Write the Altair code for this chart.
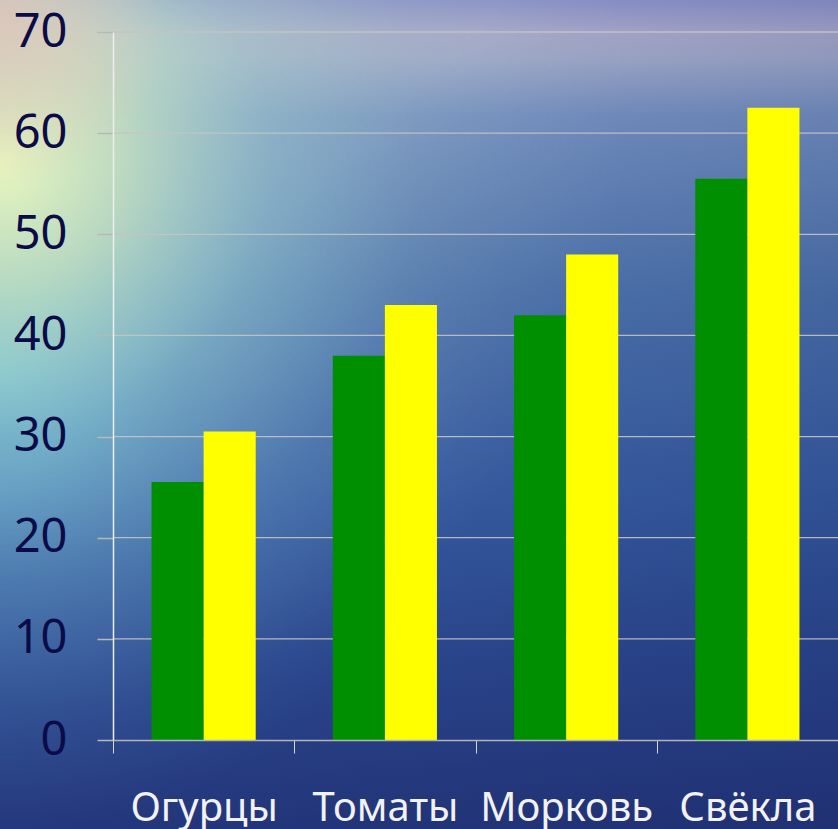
import altair as alt
import pandas as pd

# Vegetable yields for two periods
categories = ["Огурцы", "Томаты", "Морковь", "Свёкла"]
series_names = ["Первый", "Второй"]
first_values = [25.5, 38, 42, 55.5]
second_values = [30.5, 43, 48, 62.5]
bar_colors = ["#008f00", "#ffff00"]
y_ticks = [0, 10, 20, 30, 40, 50, 60, 70]

rows = []
for cat, a, b in zip(categories, first_values, second_values):
    rows.append({"cat": cat, "series": series_names[0], "value": a})
    rows.append({"cat": cat, "series": series_names[1], "value": b})
df = pd.DataFrame(rows)
grid_df = pd.DataFrame({"value": y_ticks[1:]})

W, H = 725, 708
PAD_L, PAD_T, PAD_B = 113, 32, 89


def stops(pairs):
    return [alt.GradientStop(color=c, offset=o) for o, c in pairs]


def backdrop(fill):
    return alt.Chart(alt.Data(values=[{}])).mark_rect(fill=fill, strokeWidth=0).encode(
        x=alt.value(-PAD_L), x2=alt.value(W),
        y=alt.value(-PAD_T), y2=alt.value(H + PAD_B),
    )


# sea-like backdrop: sky haze at the top, deepening blue towards the bottom
sea = backdrop(alt.LinearGradient(
    gradient="linear", x1=0, y1=0, x2=0, y2=1,
    stops=stops([
        (0.0, "#8a90c8"), (0.04, "#a8a8c8"), (0.07, "#a0a8c8"),
        (0.14, "#7490c0"), (0.35, "#5078b0"), (0.60, "#3a62a8"),
        (0.80, "#2e4c94"), (1.0, "#263a80"),
    ]),
))
# hazy light over the upper-left water
haze = backdrop(alt.RadialGradient(
    gradient="radial", x1=0.05, y1=0.15, r1=0, x2=0.05, y2=0.15, r2=0.7,
    stops=stops([
        (0.0, "rgba(205,225,200,0.55)"), (0.5, "rgba(170,200,195,0.3)"),
        (1.0, "rgba(150,180,200,0)"),
    ]),
))
# cyan shimmer along the left edge
cyan = backdrop(alt.RadialGradient(
    gradient="radial", x1=0, y1=0.45, r1=0, x2=0, y2=0.45, r2=0.55,
    stops=stops([
        (0.0, "rgba(120,215,225,0.6)"), (0.4, "rgba(110,190,215,0.3)"),
        (1.0, "rgba(100,160,210,0)"),
    ]),
))
# pale sunlit glow at the upper left
glow = backdrop(alt.RadialGradient(
    gradient="radial", x1=0, y1=0.2, r1=0, x2=0, y2=0.2, r2=0.5,
    stops=stops([
        (0.0, "rgba(238,250,190,0.95)"), (0.3, "rgba(220,242,190,0.6)"),
        (0.65, "rgba(175,225,210,0.18)"), (1.0, "rgba(150,210,220,0)"),
    ]),
))
# warm tint in the top-left corner
warm = backdrop(alt.RadialGradient(
    gradient="radial", x1=0, y1=0.03, r1=0, x2=0, y2=0.03, r2=0.2,
    stops=stops([
        (0.0, "rgba(225,195,185,0.8)"), (1.0, "rgba(225,195,185,0)"),
    ]),
))
# deeper water towards the lower right
shade = backdrop(alt.LinearGradient(
    gradient="linear", x1=0.3, y1=0.3, x2=1, y2=1,
    stops=stops([
        (0.0, "rgba(20,30,90,0)"), (1.0, "rgba(20,30,90,0.35)"),
    ]),
))

gridlines = alt.Chart(grid_df).mark_rule(color="#c4c4c4", strokeWidth=1.3, opacity=0.9).encode(
    y=alt.Y("value:Q", scale=alt.Scale(domain=[0, 70], nice=False)),
)

bars = alt.Chart(df).mark_bar(strokeWidth=0).encode(
    x=alt.X(
        "cat:N", sort=categories, title=None,
        scale=alt.Scale(paddingInner=0, paddingOuter=0),
        axis=alt.Axis(
            labelAngle=0, labelFont="Noto Sans", labelFontSize=40,
            labelColor="#f2f2f2", labelBaseline="alphabetic", labelPadding=67,
            labelLimit=0, labelOverlap=False,
            tickBand="extent", tickSize=13, tickColor="#d8d8d8", tickWidth=1,
            domainColor="#b4b4b4", domainWidth=1.5, grid=False, zindex=1,
        ),
    ),
    xOffset=alt.XOffset("series:N", sort=series_names,
                        scale=alt.Scale(paddingInner=0, paddingOuter=0.74)),
    y=alt.Y(
        "value:Q", title=None,
        scale=alt.Scale(domain=[0, 70], nice=False),
        axis=alt.Axis(
            values=y_ticks, grid=False, zindex=1,
            labelFont="Noto Sans", labelFontSize=47, labelColor="#0b0b48",
            labelPadding=30, tickSize=16, tickColor="#b8b8b8", tickWidth=1.5,
            domainColor="#eeeeee", domainWidth=1.5,
        ),
    ),
    color=alt.Color("series:N", sort=series_names, legend=None,
                    scale=alt.Scale(domain=series_names, range=bar_colors)),
)

chart = alt.layer(sea, haze, cyan, glow, warm, shade, gridlines, bars).properties(
    width=W, height=H,
    autosize=alt.AutoSizeParams(type="none"),
    padding={"left": PAD_L, "top": PAD_T, "right": 0, "bottom": PAD_B},
).configure_view(stroke=None).configure(background="#263a80")

chart.save("out.html", embed_options={"renderer": "svg", "actions": False})
